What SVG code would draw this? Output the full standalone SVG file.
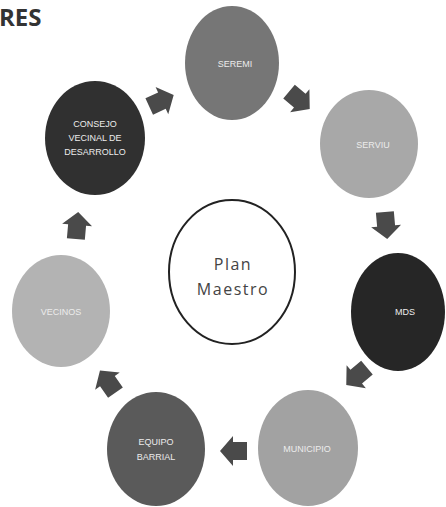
<svg xmlns="http://www.w3.org/2000/svg" width="446" height="507" viewBox="0 0 446 507">
<defs>
<style>
.lbl{font-family:"Liberation Sans","Open Sans",sans-serif;font-size:9px;fill:#ececec;text-anchor:middle}
.title{font-family:"Open Sans","Liberation Sans",sans-serif;font-size:24px;font-weight:bold;fill:#333}
.plan{font-family:"Open Sans","Liberation Sans",sans-serif;font-size:16px;fill:#444;text-anchor:middle;letter-spacing:1.5px}
.arr{fill:#4a4a4a}
</style>
<path id="ar" d="M -13,-9 L 1,-9 L 1,-15 L 14,0 L 1,15 L 1,9 L -13,9 Z"/>
</defs>
<rect width="446" height="507" fill="#ffffff"/>
<text class="title" x="-1" y="26">RES</text>

<g id="plan-maestro">
<ellipse cx="232" cy="272" rx="63" ry="72" fill="#ffffff" stroke="#222" stroke-width="2"/>
<text class="plan" x="233" y="270">Plan</text>
<text class="plan" x="233" y="295">Maestro</text>
</g>

<g id="seremi">
<ellipse cx="232" cy="63" rx="47" ry="57" fill="#767676"/>
<text class="lbl" x="235" y="67">SEREMI</text>
</g>
<g id="serviu">
<ellipse cx="369" cy="144" rx="49" ry="54" fill="#a8a8a8"/>
<text class="lbl" x="373" y="148">SERVIU</text>
</g>
<g id="mds">
<ellipse cx="398" cy="312" rx="47" ry="59" fill="#262626"/>
<text class="lbl" x="405" y="315">MDS</text>
</g>
<g id="municipio">
<ellipse cx="308" cy="448" rx="50" ry="58" fill="#a2a2a2"/>
<text class="lbl" x="307" y="452">MUNICIPIO</text>
</g>
<g id="equipo-barrial">
<ellipse cx="156" cy="449" rx="49" ry="57" fill="#5a5a5a"/>
<text class="lbl" x="156" y="445">EQUIPO</text>
<text class="lbl" x="156" y="460">BARRIAL</text>
</g>
<g id="vecinos">
<ellipse cx="61" cy="311" rx="49" ry="56" fill="#b3b3b3"/>
<text class="lbl" x="61" y="315">VECINOS</text>
</g>
<g id="consejo">
<ellipse cx="95" cy="138" rx="50" ry="57" fill="#303030"/>
<text class="lbl" x="95" y="127">CONSEJO</text>
<text class="lbl" x="95" y="141">VECINAL DE</text>
<text class="lbl" x="95" y="155">DESARROLLO</text>
</g>

<g id="connectors" class="arr">
<use href="#ar" transform="translate(161,101) rotate(-25)"/>
<use href="#ar" transform="translate(299,100) rotate(40)"/>
<use href="#ar" transform="translate(386,225) rotate(85)"/>
<use href="#ar" transform="translate(357,376) rotate(140)"/>
<use href="#ar" transform="translate(234,451) rotate(180)"/>
<use href="#ar" transform="translate(108,382) rotate(-125)"/>
<use href="#ar" transform="translate(77,226) rotate(-85)"/>
</g>
</svg>
